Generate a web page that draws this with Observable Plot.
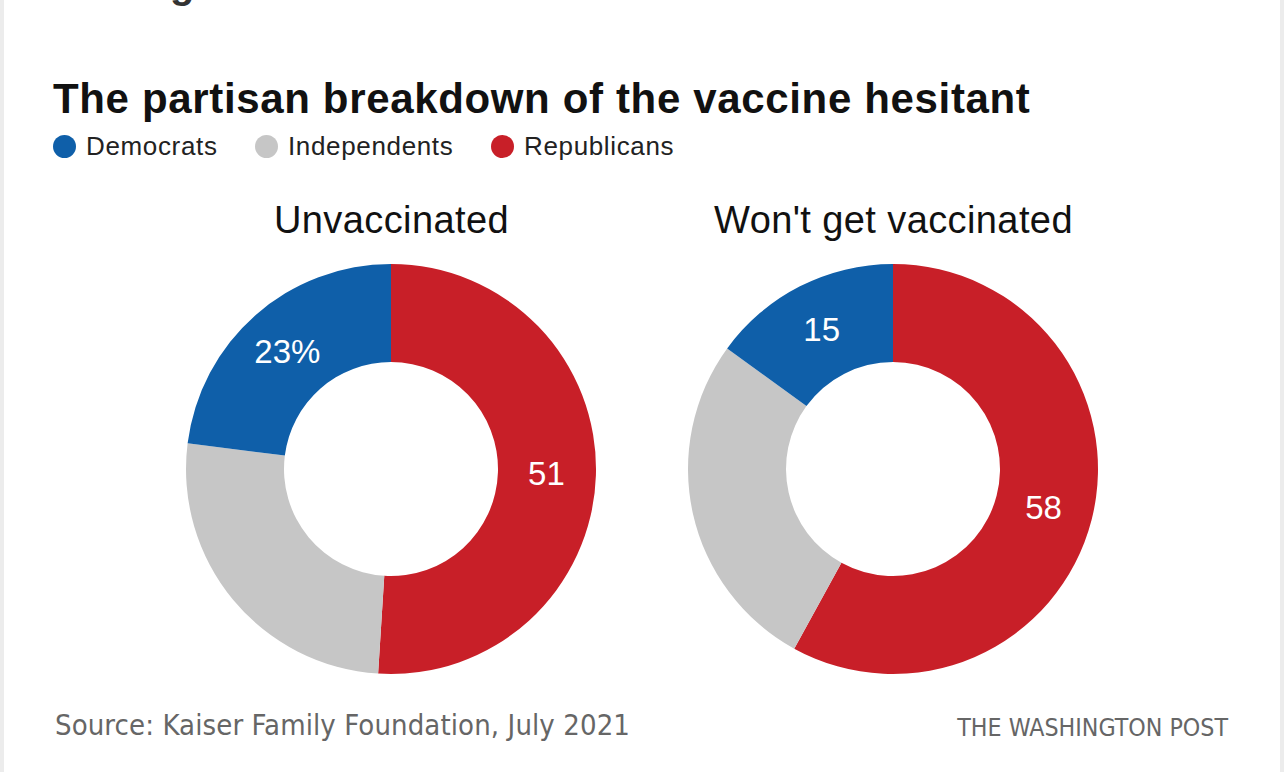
<!DOCTYPE html>
<html>
<head>
<meta charset="utf-8">
<script src="https://cdn.jsdelivr.net/npm/d3@7"></script>
<script src="https://cdn.jsdelivr.net/npm/@observablehq/plot@0.6"></script>
<style>
  html, body { margin: 0; padding: 0; background: #fff; }
  #frame { position: relative; width: 1284px; height: 772px; overflow: hidden; background: #fff;
           font-family: "Liberation Sans", Arial, sans-serif; }
  #frame::before { content: ""; position: absolute; left: 0; top: 0; width: 4px; height: 772px; background: #ececec; }
  #frame::after { content: ""; position: absolute; right: 0; top: 0; width: 4px; height: 772px; background: #ececec; }
  #title { position: absolute; left: 53px; top: 75px; font-size: 42px; font-weight: bold; color: #111;
           line-height: 48px; white-space: nowrap; letter-spacing: 0.65px; }
  #legend { position: absolute; left: 0; top: 131px; height: 30px; width: 1284px; }
  .item { position: absolute; top: 0; height: 30px; display: flex; align-items: center; }
  .dot { width: 23px; height: 23px; border-radius: 50%; margin-right: 10px; }
  .lab { font-size: 26px; color: #222; letter-spacing: 0.65px; }
  #chart { position: absolute; left: 0; top: 185px; }
  #source { position: absolute; left: 55px; top: 708px; font-size: 29px; color: #666; letter-spacing: 0.1px;
            font-family: "Liberation Sans Narrow", "DejaVu Sans Condensed", sans-serif; white-space: nowrap; }
  #credit { position: absolute; right: 56px; top: 713px; font-size: 24.7px; color: #666;
            font-family: "Liberation Sans Narrow", "DejaVu Sans Condensed", sans-serif; white-space: nowrap; }
  #cut { position: absolute; left: 170px; top: -38px; font-size: 40px; font-weight: bold; color: #333; }
</style>
</head>
<body>
<div id="frame">
  <div id="cut">g</div>
  <div id="title">The partisan breakdown of the vaccine hesitant</div>
  <div id="legend"></div>
  <div id="chart"></div>
  <div id="source">Source: Kaiser Family Foundation, July 2021</div>
  <div id="credit">THE WASHINGTON POST</div>
</div>
<script>
// ---- data ----
const charts = ["Unvaccinated", "Won't get vaccinated"];
const parties = ["Republicans", "Independents", "Democrats"]; // clockwise order from 12 o'clock
const republicans = [51, 58];
const independents = [26, 27];
const democrats = [23, 15];
const republicanLabels = ["51", "58"];
const democratLabels = ["23%", "15"];
const legendOrder = ["Democrats", "Independents", "Republicans"];
const partyColors = ["#c81f28", "#c6c6c6", "#0f5fa9"]; // same order as parties

// ---- table ----
const valuesByParty = {Republicans: republicans, Independents: independents, Democrats: democrats};
const labelsByParty = {Republicans: republicanLabels, Independents: null, Democrats: democratLabels};
const rows = [];
charts.forEach((chart, i) => {
  const total = parties.reduce((s, p) => s + valuesByParty[p][i], 0);
  let acc = 0;
  parties.forEach(p => {
    const v = valuesByParty[p][i];
    const a0 = acc / total * 2 * Math.PI;
    acc += v;
    const a1 = acc / total * 2 * Math.PI;
    rows.push({chart, party: p, value: v, a0, a1, label: labelsByParty[p] ? labelsByParty[p][i] : null});
  });
});
const labelRows = rows.filter(d => d.label);

const inner = 107, outer = 205, labelR = (inner + outer) / 2;

// ---- legend ----
const legendX = [53, 255, 491];
const legend = d3.select("#legend");
legendOrder.forEach((p, k) => {
  const it = legend.append("div").attr("class", "item").style("left", legendX[k] + "px");
  it.append("div").attr("class", "dot").style("background", partyColors[parties.indexOf(p)]);
  it.append("div").attr("class", "lab").text(p);
});

// ---- chart ----
const chart = Plot.plot({
  width: 1284,
  height: 500,
  margin: 0,
  style: {fontFamily: "'Liberation Sans', Arial, sans-serif", background: "transparent", overflow: "visible"},
  x: {type: "point", domain: charts, range: [391, 893], padding: 0, axis: null},
  y: {type: "point", domain: ["label", "ring"], range: [35, 284], padding: 0, axis: null},
  color: {domain: parties, range: partyColors},
  marks: [
    Plot.text(charts, {x: d => d, y: () => "label", text: d => d, fontSize: 38, fill: "#111",
      render: (index, scales, values, dims, ctx, next) => {
        const g = next(index, scales, values, dims, ctx);
        g.setAttribute("letter-spacing", "0.4");
        return g;
      }}),
    Plot.dot(rows, {
      x: "chart", y: () => "ring", fill: "party",
      render: (index, scales, values) => {
        const g = d3.create("svg:g");
        const arc = d3.arc().innerRadius(inner).outerRadius(outer);
        for (const i of index) {
          g.append("path")
            .attr("transform", `translate(${values.x[i]},${values.y[i]})`)
            .attr("d", arc({startAngle: rows[i].a0, endAngle: rows[i].a1}))
            .attr("fill", values.fill[i]);
        }
        return g.node();
      }
    }),
    Plot.text(labelRows, {
      x: "chart", y: () => "ring", text: "label", fill: "white", fontSize: 33,
      render: (index, scales, values, dims, ctx, next) => {
        const X = Array.from(values.x), Y = Array.from(values.y);
        for (const i of index) {
          const mid = (labelRows[i].a0 + labelRows[i].a1) / 2;
          X[i] += labelR * Math.sin(mid) - 1;
          Y[i] -= labelR * Math.cos(mid);
        }
        return next(index, scales, {...values, x: X, y: Y}, dims, ctx);
      }
    })
  ]
});
document.getElementById("chart").appendChild(chart);
</script>
</body>
</html>
